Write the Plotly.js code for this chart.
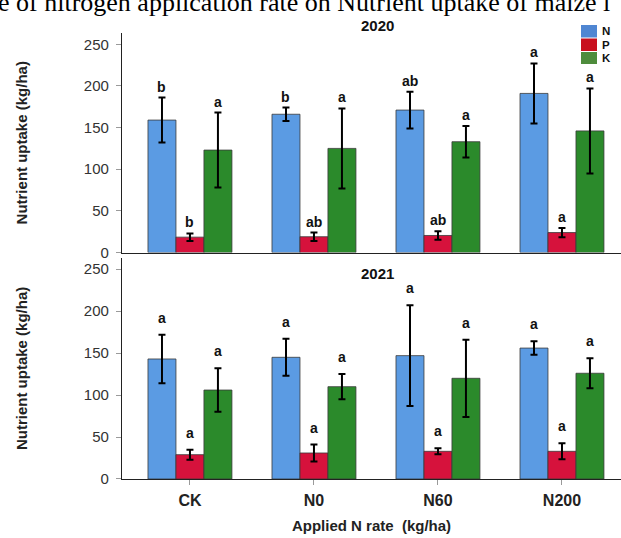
<!DOCTYPE html>
<html>
<head>
<meta charset="utf-8">
<script src="https://cdn.plot.ly/plotly-3.0.1.min.js"></script>
<style>
  html, body { margin: 0; padding: 0; background: #ffffff; }
  #chart { width: 621px; height: 538px; }
</style>
</head>
<body>
<div id="chart"></div>
<script>
// ---------------- data ----------------
const categories = ['CK', 'N0', 'N60', 'N200'];
const seriesNames = ['N', 'P', 'K'];

const N2020 = [159, 166, 171, 191];
const N2020Err = [27, 8, 22, 36];
const P2020 = [18.5, 19, 20.5, 24];
const P2020Err = [4.5, 5, 5, 5.5];
const K2020 = [123, 125, 133, 146];
const K2020Err = [45, 48, 19, 51];

const N2021 = [143, 145, 147, 156];
const N2021Err = [29, 22, 60, 8];
const P2021 = [29, 31, 33, 33];
const P2021Err = [6, 10, 3.5, 9.5];
const K2021 = [106, 110, 120, 126];
const K2021Err = [26, 15, 46, 18];

const letters2020N = ['b', 'b', 'ab', 'a'];
const letters2020P = ['b', 'ab', 'ab', 'a'];
const letters2020K = ['a', 'a', 'a', 'a'];
const letters2021N = ['a', 'a', 'a', 'a'];
const letters2021P = ['a', 'a', 'a', 'a'];
const letters2021K = ['a', 'a', 'a', 'a'];

const yTicks = [0, 50, 100, 150, 200, 250];
const captionText = 'e of nitrogen application rate on Nutrient uptake of maize i';
const panelTitles = ['2020', '2021'];
const yTitle = 'Nutrient uptake (kg/ha)';
const xTitle = 'Applied N rate  (kg/ha)';

// ---------------- style ----------------
const colors = ['#5B9BE3', '#D6123C', '#2B8A2B'];
const legendColors = ['#4F86D2', '#C8101E', '#4E8C3C'];
const SANS = 'Liberation Sans, Arial, Helvetica, sans-serif';
const SERIF = 'Liberation Serif, Times New Roman, serif';

const W = 621, H = 538;
const M = { l: 122, r: 0, t: 33, b: 58.7 };
const plotH = H - M.t - M.b;
const plotW = W - M.l - M.r;
const py = (px) => (H - M.b - px) / plotH;   // pixel row -> paper y
const pxX = (px) => (px - M.l) / plotW;      // pixel col -> paper x

const bargap = 0.323;
const bw = (1 - bargap) / 3;

const panelTop = {
  vals: [N2020, P2020, K2020], errs: [N2020Err, P2020Err, K2020Err],
  letters: [letters2020N, letters2020P, letters2020K], xa: 'x2', ya: 'y2', shift: 1
};
const panelBot = {
  vals: [N2021, P2021, K2021], errs: [N2021Err, P2021Err, K2021Err],
  letters: [letters2021N, letters2021P, letters2021K], xa: 'x', ya: 'y', shift: 7
};

const traces = [];
const annotations = [];
[panelTop, panelBot].forEach((panel) => {
  for (let s = 0; s < 3; s++) {
    traces.push({
      type: 'bar',
      name: seriesNames[s],
      x: categories,
      y: panel.vals[s],
      xaxis: panel.xa,
      yaxis: panel.ya,
      showlegend: false,
      marker: { color: colors[s], line: { color: '#3a3a3a', width: 0.8 } },
      error_y: { type: 'data', array: panel.errs[s], visible: true,
                 color: '#000000', thickness: 2, width: 3.5 },
      hoverinfo: 'x+y'
    });
    for (let c = 0; c < categories.length; c++) {
      annotations.push({
        xref: panel.xa, yref: panel.ya,
        x: c + (s - 1) * bw,
        y: panel.vals[s][c] + panel.errs[s][c],
        text: panel.letters[s][c],
        showarrow: false, xanchor: 'center', yanchor: 'bottom',
        yshift: panel.shift,
        font: { family: SANS, size: 14, color: '#111111', weight: 'bold' }
      });
    }
  }
});

// caption fragment at the very top (cropped in the reference)
annotations.push({
  xref: 'paper', yref: 'paper', x: pxX(-3), y: py(2.4),
  text: captionText, showarrow: false, xanchor: 'left', yanchor: 'middle', borderpad: 0,
  font: { family: SERIF, size: 26, color: '#000000' }
});

// panel titles
annotations.push({
  xref: 'paper', yref: 'paper', x: pxX(377), y: py(25.5),
  text: panelTitles[0], showarrow: false, xanchor: 'center', yanchor: 'middle', borderpad: 0,
  font: { family: SANS, size: 15, color: '#111111', weight: 'bold' }
});
annotations.push({
  xref: 'paper', yref: 'paper', x: pxX(377), y: py(274),
  text: panelTitles[1], showarrow: false, xanchor: 'center', yanchor: 'middle',
  font: { family: SANS, size: 15, color: '#111111', weight: 'bold' }
});

// legend (manual, compact)
const legendRows = [[25, 37.5], [38.5, 51], [52, 64]];
const shapes = [];
seriesNames.forEach((nm, i) => {
  shapes.push({
    type: 'rect', xref: 'paper', yref: 'paper',
    x0: pxX(581), x1: pxX(597),
    y0: py(legendRows[i][1]), y1: py(legendRows[i][0]),
    fillcolor: legendColors[i], line: { width: 0 }
  });
  annotations.push({
    xref: 'paper', yref: 'paper', x: pxX(601), y: py((legendRows[i][0] + legendRows[i][1]) / 2),
    text: nm, showarrow: false, xanchor: 'left', yanchor: 'middle', borderpad: 0,
    font: { family: SANS, size: 11.5, color: '#111111', weight: 'bold' }
  });
});

const yaxisCommon = {
  range: [0, 263.5],
  tickvals: yTicks,
  ticks: 'outside', ticklen: 5, tickwidth: 1, tickcolor: '#9a9a9a',
  showline: true, linecolor: '#222222', linewidth: 1.3,
  showgrid: false, zeroline: false,
  tickfont: { family: SANS, size: 15, color: '#333333' },
  ticklabelstandoff: 4,
  title: { text: yTitle, standoff: 52,
           font: { family: SANS, size: 15, color: '#222222', weight: 'bold' } },
  fixedrange: true
};

const layout = {
  width: W, height: H,
  margin: M,
  paper_bgcolor: '#ffffff', plot_bgcolor: '#ffffff',
  barmode: 'group', bargap: bargap, bargroupgap: 0,
  showlegend: false,
  xaxis: {
    domain: [0, 1], anchor: 'y',
    range: [-0.548, 3.476],
    ticks: 'outside', ticklen: 5, tickcolor: '#9a9a9a',
    showline: true, linecolor: '#222222', linewidth: 1.3,
    showgrid: false, zeroline: false,
    tickfont: { family: SANS, size: 16, color: '#222222', weight: 'bold' },
    ticklabelstandoff: 2,
    title: { text: xTitle, standoff: 12,
             font: { family: SANS, size: 15, color: '#222222', weight: 'bold' } },
    fixedrange: true
  },
  xaxis2: {
    domain: [0, 1], anchor: 'y2', matches: 'x',
    range: [-0.548, 3.476],
    showticklabels: false, ticks: '',
    showline: true, linecolor: '#222222', linewidth: 1.3,
    showgrid: false, zeroline: false, fixedrange: true
  },
  yaxis: Object.assign({}, yaxisCommon, { domain: [0, (H - M.b - 258) / plotH], anchor: 'x' }),
  yaxis2: Object.assign({}, yaxisCommon, { domain: [(H - M.b - 252.7) / plotH, 1], anchor: 'x2' }),
  annotations: annotations,
  shapes: shapes
};

Plotly.newPlot('chart', traces, layout, { displayModeBar: false, staticPlot: false });
</script>
</body>
</html>
